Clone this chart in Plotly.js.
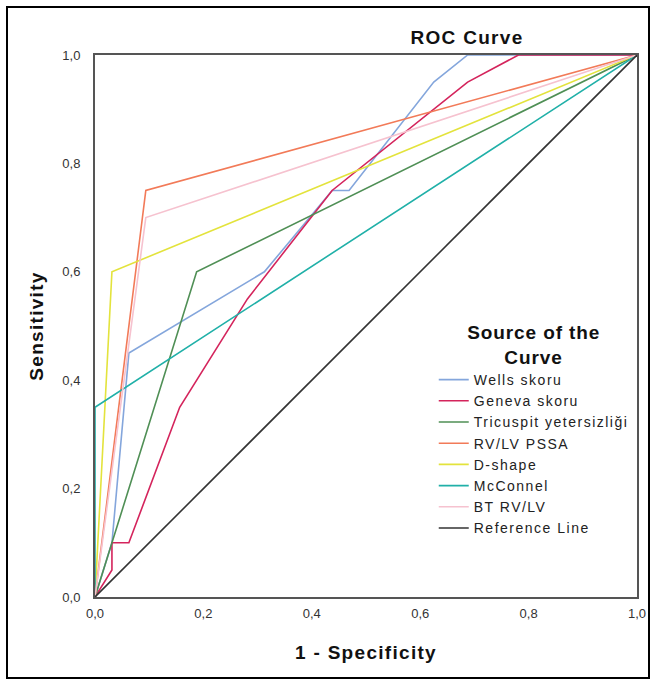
<!DOCTYPE html>
<html>
<head>
<meta charset="utf-8">
<script src="https://cdn.plot.ly/plotly-3.0.1.min.js"></script>
<style>
html,body{margin:0;padding:0;background:#fff;}
#wrap{position:relative;width:655px;height:683px;}
#frame{position:absolute;left:6px;top:6px;width:640px;height:669px;border:2px solid #000;pointer-events:none;z-index:5;}
#chart{position:absolute;left:0;top:0;width:655px;height:683px;}
text.gtitle, text.xtitle, text.ytitle {letter-spacing:1.3px;}
text.legendtitletext {letter-spacing:0.9px;}
text.legendtext {letter-spacing:1.5px;}
</style>
</head>
<body>
<div id="wrap"><div id="chart"></div><div id="frame"></div></div>
<script>
// Series names (legend order)
var seriesNames = ["Wells skoru", "Geneva skoru", "Tricuspit yetersizliği", "RV/LV PSSA", "D-shape", "McConnel", "BT RV/LV", "Reference Line"];
var seriesColors = ["#84a6dc", "#d4245c", "#4f8f55", "#f27a58", "#e3e33c", "#20b0a8", "#f6c2cf", "#333333"];

// 1 - Specificity (x) and Sensitivity (y) per series
var wellsX = [0, 0.03125, 0.0625, 0.3125, 0.4375, 0.46875, 0.625, 0.6875, 1];
var wellsY = [0, 0.10, 0.45, 0.60, 0.75, 0.75, 0.95, 1.00, 1];

var genevaX = [0, 0.03125, 0.03125, 0.0625, 0.15625, 0.28125, 0.4375, 0.6875, 0.78125, 1];
var genevaY = [0, 0.05, 0.10, 0.10, 0.35, 0.55, 0.75, 0.95, 1.00, 1];

var tricuspitX = [0, 0.1875, 1];
var tricuspitY = [0, 0.60, 1];

var rvlvPssaX = [0, 0.09375, 1];
var rvlvPssaY = [0, 0.75, 1];

var dShapeX = [0, 0.03125, 1];
var dShapeY = [0, 0.60, 1];

var mcConnelX = [0, 0, 1];
var mcConnelY = [0, 0.35, 1];

var btRvlvX = [0, 0.09375, 1];
var btRvlvY = [0, 0.70, 1];

var refX = [0, 1];
var refY = [0, 1];

var tickVals = [0, 0.2, 0.4, 0.6, 0.8, 1.0];
var tickText = ["0,0", "0,2", "0,4", "0,6", "0,8", "1,0"];

var xs = [wellsX, genevaX, tricuspitX, rvlvPssaX, dShapeX, mcConnelX, btRvlvX, refX];
var ys = [wellsY, genevaY, tricuspitY, rvlvPssaY, dShapeY, mcConnelY, btRvlvY, refY];

var traces = seriesNames.map(function(n, i){
  return {x: xs[i], y: ys[i], name: n, type: "scatter", mode: "lines",
          line: {color: seriesColors[i], width: 1.6}};
});

var nb = "&nbsp;&nbsp;&nbsp;&nbsp;&nbsp;&nbsp;";

var layout = {
  width: 655, height: 683,
  margin: {l: 95, r: 18, t: 55, b: 86},
  paper_bgcolor: "#fff", plot_bgcolor: "#fff",
  font: {family: "Liberation Sans, Arial, sans-serif", color: "#222", size: 13},
  title: {text: "<b>ROC Curve</b>", x: 0.713, xanchor: "center", y: 0.945, yanchor: "middle",
          font: {size: 19, color: "#111"}},
  xaxis: {range: [0, 1], tickvals: tickVals, ticktext: tickText, showgrid: false, zeroline: false,
          showline: true, mirror: true, linecolor: "#555", linewidth: 2, ticks: "",
          ticklabelstandoff: 3,
          tickfont: {size: 13, color: "#333"},
          title: {text: "<b>1 - Specificity</b>", font: {size: 19, color: "#111"}, standoff: 26}},
  yaxis: {range: [0, 1], tickvals: tickVals, ticktext: tickText, showgrid: false, zeroline: false,
          showline: true, mirror: true, linecolor: "#555", linewidth: 2, ticks: "",
          ticklabelstandoff: 10,
          tickfont: {size: 13, color: "#333"},
          title: {text: "<b>Sensitivity</b>", font: {size: 19, color: "#111"}, standoff: 14}},
  showlegend: true,
  legend: {x: 0.625, y: 0.521, xanchor: "left", yanchor: "top", bgcolor: "rgba(255,255,255,0)",
           font: {size: 14, color: "#222"}, itemwidth: 30, tracegroupgap: 0,
           title: {text: "<b>Source of the<br>" + nb + "Curve</b>", side: "top center", font: {size: 19, color: "#111"}}}
};

Plotly.newPlot("chart", traces, layout, {displayModeBar: false, staticPlot: true});
</script>
</body>
</html>
